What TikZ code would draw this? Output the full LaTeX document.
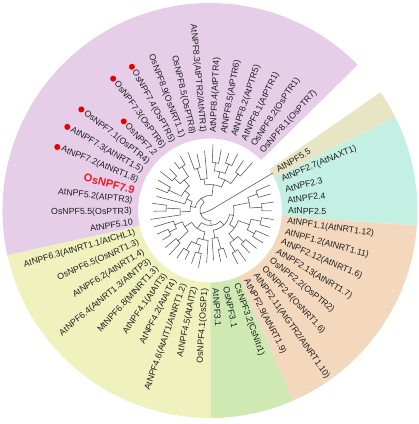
\documentclass[tikz,border=0pt]{standalone}
\usepackage{fontspec}
\setmainfont{Liberation Sans}
\usetikzlibrary{calc}
\definecolor{cpurple}{RGB}{230,206,233}
\definecolor{cyellow}{RGB}{240,242,190}
\definecolor{cgreen}{RGB}{206,233,178}
\definecolor{cpeach}{RGB}{244,216,190}
\definecolor{ccyan}{RGB}{196,240,228}
\definecolor{ctan}{RGB}{232,229,197}
\definecolor{dotred}{RGB}{232,0,0}
\definecolor{labred}{RGB}{236,30,36}
\definecolor{treegray}{RGB}{80,80,80}
\def\sA{48.5}
\def\sS{7.78}
\newcommand\TB[3]{\draw[treeline] ({\sA+\sS*(#1)}:#2pt) -- ({\sA+\sS*(#1)}:#3pt);}
\newcommand\TA[3]{\draw[treeline] ({\sA+\sS*(#1)}:#3pt) arc[start angle={\sA+\sS*(#1)}, end angle={\sA+\sS*(#2)}, radius=#3pt];}
\newcommand\SECT[3]{\fill[#3] ({\sA+\sS*(#1)}:72pt) arc[start angle={\sA+\sS*(#1)}, end angle={\sA+\sS*(#2)}, radius=72pt] -- ({\sA+\sS*(#2)}:207.5pt) arc[start angle={\sA+\sS*(#2)}, end angle={\sA+\sS*(#1)}, radius=207.5pt] -- cycle;}
\newcommand\LL[3][]{%
  \pgfmathsetmacro\ang{\sA+\sS*#2}%
  \pgfmathtruncatemacro\side{(mod(\ang,360)>90) && (mod(\ang,360)<270) ? 1 : 0}%
  \ifnum\side=1
    \node[lbl, anchor=east, rotate=\ang-180, #1] (L#2) at (\ang:78pt) {#3};
  \else
    \node[lbl, anchor=west, rotate=\ang, #1] (L#2) at (\ang:78pt) {#3};
  \fi}
\newcommand\DOT[1]{\fill[dotred] ($(L#1.west)+({\sA+\sS*#1}:4.5pt)$) circle (3pt);}
\begin{document}
\begin{tikzpicture}[x=1pt,y=1pt,
  treeline/.style={draw=treegray, line width=0.55pt, line cap=round},
  lbl/.style={font=\fontsize{8.8}{9.5}\selectfont, inner sep=0pt, text=black!88}]
\useasboundingbox (0,0) rectangle (419,424);
\begin{scope}[shift={(210,213.5)}]
% sectors
\SECT{-0.5}{18.5}{cpurple}
\SECT{18.5}{28.5}{cyellow}
\SECT{28.5}{31.5}{cgreen}
\SECT{31.5}{39.5}{cpeach}
\SECT{39.5}{43.5}{ccyan}
\SECT{43.5}{44.5}{ctan}
% tree: NPF8
\TA{0}{1}{46} \TB{0}{46}{64} \TB{1}{46}{60}
\TA{2}{3}{50} \TB{2}{50}{63} \TB{3}{50}{60}
\TA{4}{5}{48} \TB{4}{48}{62} \TB{5}{48}{66}
\TA{2.5}{4.5}{40} \TB{2.5}{40}{50} \TB{4.5}{40}{48}
\TA{7}{8}{44} \TB{7}{44}{58} \TB{8}{44}{62}
\TA{6}{7.5}{32} \TB{6}{32}{60} \TB{7.5}{32}{44}
\TA{0.5}{3.5}{34} \TB{0.5}{34}{46} \TB{3.5}{34}{40}
\TA{2}{6.75}{26} \TB{2}{26}{34} \TB{6.75}{26}{32}
% NPF7
\TA{9}{10}{52} \TB{9}{52}{62} \TB{10}{52}{60}
\TA{11}{12}{48} \TB{11}{48}{58} \TB{12}{48}{63}
\TA{9.5}{11.5}{40} \TB{9.5}{40}{52} \TB{11.5}{40}{48}
\TA{13}{14}{46} \TB{13}{46}{60} \TB{14}{46}{58}
\TA{10.5}{13.5}{32} \TB{10.5}{32}{40} \TB{13.5}{32}{46}
\TA{12}{15}{26} \TB{12}{26}{32} \TB{15}{26}{55}
% NPF5
\TA{16}{17}{44} \TB{16}{44}{58} \TB{17}{44}{56}
\TA{16.5}{18}{30} \TB{16.5}{30}{44} \TB{18}{30}{60}
\TA{13.5}{17.25}{20} \TB{13.5}{20}{26} \TB{17.25}{20}{30}
\TA{4.375}{15.375}{15} \TB{4.375}{15}{26} \TB{15.375}{15}{20}
% NPF6
\TA{20}{21}{46} \TB{20}{46}{58} \TB{21}{46}{56}
\TA{19}{20.5}{38} \TB{19}{38}{58} \TB{20.5}{38}{46}
\TA{22}{23}{44} \TB{22}{44}{58} \TB{23}{44}{60}
\TA{19.75}{22.5}{30} \TB{19.75}{30}{38} \TB{22.5}{30}{44}
% NPF4
\TA{24}{25}{46} \TB{24}{46}{58} \TB{25}{46}{55}
\TA{26}{27}{44} \TB{26}{44}{56} \TB{27}{44}{58}
\TA{24.5}{26.5}{36} \TB{24.5}{36}{46} \TB{26.5}{36}{44}
\TA{25.5}{28}{30} \TB{25.5}{30}{36} \TB{28}{30}{52}
\TA{21.125}{26.75}{22} \TB{21.125}{22}{30} \TB{26.75}{22}{30}
% NPF3
\TA{30}{31}{40} \TB{30}{40}{52} \TB{31}{40}{50}
\TA{29}{30.5}{28} \TB{29}{28}{50} \TB{30.5}{28}{40}
% NPF2/1
\TA{32}{33}{48} \TB{32}{48}{60} \TB{33}{48}{62}
\TA{34}{35}{46} \TB{34}{46}{58} \TB{35}{46}{60}
\TA{32.5}{34.5}{38} \TB{32.5}{38}{48} \TB{34.5}{38}{46}
\TA{36}{37}{50} \TB{36}{50}{62} \TB{37}{50}{64}
\TA{38}{39}{52} \TB{38}{52}{62} \TB{39}{52}{64}
\TA{36.5}{38.5}{42} \TB{36.5}{42}{50} \TB{38.5}{42}{52}
\TA{33.5}{37.5}{30} \TB{33.5}{30}{38} \TB{37.5}{30}{42}
\TA{40}{41}{52} \TB{40}{52}{62} \TB{41}{52}{64}
\TA{42}{43}{50} \TB{42}{50}{63} \TB{43}{50}{65}
\TA{40.5}{42.5}{40} \TB{40.5}{40}{52} \TB{42.5}{40}{50}
\TA{35.5}{41.5}{24} \TB{35.5}{24}{30} \TB{41.5}{24}{40}
\TA{29.75}{38.5}{20} \TB{29.75}{20}{28} \TB{38.5}{20}{24}
\TA{23.9375}{34.125}{15} \TB{23.9375}{15}{22} \TB{34.125}{15}{20}
\TA{9.875}{29.03125}{10} \TB{9.875}{10}{15} \TB{29.03125}{10}{15}
\TB{19.453}{0}{10} \TB{44}{0}{73}
% labels
\LL{0}{OsNPF8.1(OsPTR7)}
\LL{1}{OsNPF8.2(OsPTR1)}
\LL{2}{AtNPF8.1(AtPTR1)}
\LL{3}{AtNPF8.2(AtPTR5)}
\LL{4}{AtNPF8.5(AtPTR6)}
\LL{5}{AtNPF8.4(AtPTR4)}
\LL{6}{AtNPF8.3(AtPTR2/AtNTR1)}
\LL{7}{OsNPF8.5(OsPTR8)}
\LL{8}{OsNPF8.9(OsNRT1.1)}
\LL{9}{OsNPF7.4(OsPTR5)}
\LL{10}{OsNPF7.3(OsPTR6)}
\LL{11}{OsNPF7.2}
\LL{12}{OsNPF7.1(OsPTR4)}
\LL{13}{AtNPF7.3(AtNRT1.5)}
\LL{14}{AtNPF7.2(AtNRT1.8)}
\LL[font=\fontsize{11}{12}\selectfont\bfseries, text=labred]{15}{OsNPF7.9}
\LL{16}{AtNPF5.2(AtPTR3)}
\LL{17}{OsNPF5.5(OsPTR3)}
\LL{18}{AtNPF5.10}
\LL{19}{AtNPF6.3(AtNRT1.1/AtCHL1)}
\LL{20}{OsNPF6.5(OsNRT1.3)}
\LL{21}{AtNPF6.2(AtNRT1.4)}
\LL{22}{AtNPF6.4(AtNRT1.3/AtNTP3)}
\LL{23}{MtNPF6.8(MtNRT1.3)}
\LL{24}{AtNPF4.1(AtAIT3)}
\LL{25}{AtNPF4.2(AtAIT4)}
\LL{26}{AtNPF4.6(AtAIT1/AtNRT1.2)}
\LL{27}{AtNPF4.5(AtAIT2)}
\LL{28}{OsNPF4.1(OsSP1)}
\LL{29}{AtNPF3.1}
\LL{30}{OsNPF3.1}
\LL{31}{CsNPF3.2(CsNitr1)}
\LL{32}{AtNPF2.9(AtNRT1.9)}
\LL{33}{AtNPF2.11(AtGTR2/AtNRT1.10)}
\LL{34}{OsNPF2.4(OsNRT1.6)}
\LL{35}{OsNPF2.2(OsPTR2)}
\LL{36}{AtNPF2.13(AtNRT1.7)}
\LL{37}{AtNPF2.12(AtNRT1.6)}
\LL{38}{AtNPF1.2(AtNRT1.11)}
\LL{39}{AtNPF1.1(AtNRT1.12)}
\LL{40}{AtNPF2.5}
\LL{41}{AtNPF2.4}
\LL{42}{AtNPF2.3}
\LL{43}{AtNPF2.7(AtNAXT1)}
\LL{44}{AtNPF5.5}
% red dots
\DOT{9} \DOT{10} \DOT{11} \DOT{12} \DOT{13} \DOT{14}
\end{scope}
\end{tikzpicture}
\end{document}
